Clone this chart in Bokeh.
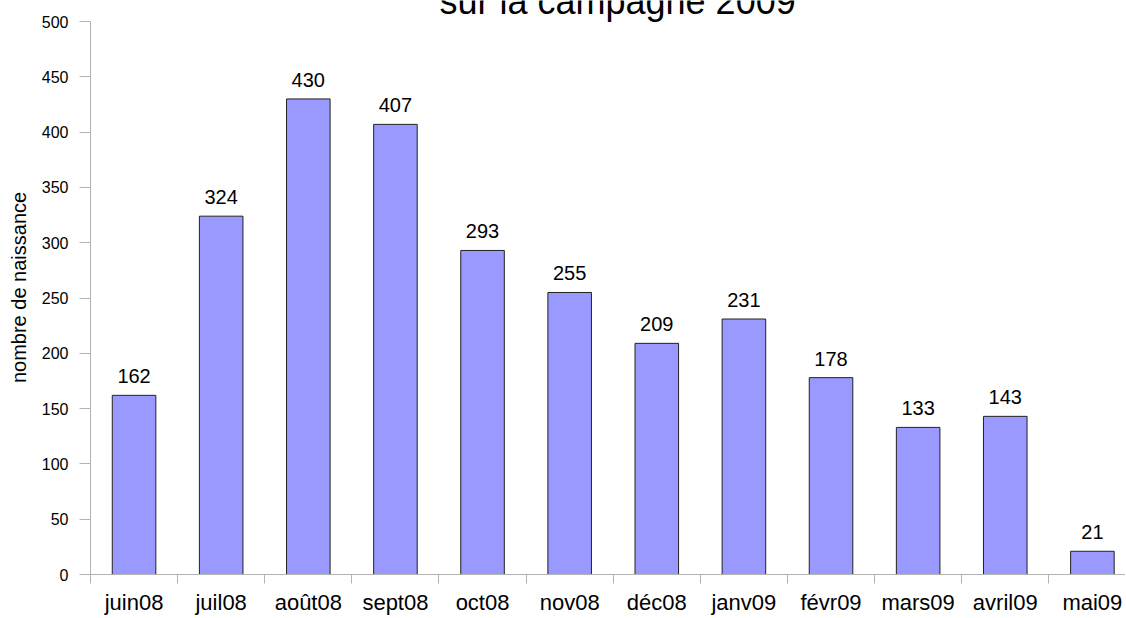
from bokeh.plotting import figure
from bokeh.models import Range1d, FixedTicker, ColumnDataSource
from bokeh.core.properties import value
from bokeh.embed import file_html
from bokeh.resources import INLINE

months = ["juin08", "juil08", "août08", "sept08", "oct08", "nov08",
          "déc08", "janv09", "févr09", "mars09", "avril09", "mai09"]
births = [162, 324, 430, 407, 293, 255, 209, 231, 178, 133, 143, 21]
y_ticks = [0, 50, 100, 150, 200, 250, 300, 350, 400, 450, 500]
title_text = "sur la campagne 2009"
y_label = "nombre de naissance"

FONT = "Liberation Sans"
idx = list(range(len(months)))
src = ColumnDataSource(dict(x=idx, top=births, lab=[str(v) for v in births]))

p = figure(width=1125, height=617, output_backend="svg", toolbar_location=None,
           x_range=Range1d(-0.5, 11.38), y_range=Range1d(0, 519),
           min_border_left=90, min_border_top=0, min_border_bottom=40, min_border_right=0)
p.outline_line_color = None
p.xgrid.grid_line_color = None
p.ygrid.grid_line_color = None
p.background_fill_color = "white"

p.vbar(x="x", top="top", width=0.5, source=src, fill_color="#9999ff",
       line_color="#222222", line_width=1)
p.text(x="x", y="top", text="lab", source=src, text_align="center",
       text_baseline="alphabetic", y_offset=-19, text_font_size="20px",
       text_font=value(FONT), text_color="black")

# title (top clipped by the frame edge, as in the reference)
p.text(x=[5.55], y=[518.3], text=[title_text], text_align="center",
       text_baseline="alphabetic", text_font_size="36px",
       text_font=value(FONT), text_color="black")

# x axis
xa = p.xaxis[0]
xa.ticker = FixedTicker(ticks=idx, minor_ticks=[i + 0.5 for i in range(-1, len(months))])
xa.major_label_overrides = {i: m for i, m in enumerate(months)}
xa.major_tick_line_color = None
xa.minor_tick_line_color = "#b3b3b3"
xa.minor_tick_in = 0
xa.minor_tick_out = 9
xa.axis_line_color = "#b3b3b3"
xa.major_label_text_font = FONT
xa.major_label_text_font_size = "22px"
xa.major_label_text_color = "black"
xa.major_label_standoff = 6

# y axis
ya = p.yaxis[0]
ya.ticker = FixedTicker(ticks=y_ticks, minor_ticks=[])
ya.bounds = (0, 500)
ya.axis_line_color = "#b3b3b3"
ya.major_tick_line_color = "#b3b3b3"
ya.major_tick_in = 0
ya.major_tick_out = 11
ya.minor_tick_line_color = None
ya.major_label_text_font = FONT
ya.major_label_text_font_size = "16px"
ya.major_label_text_color = "black"
ya.major_label_standoff = 11
ya.axis_label = y_label
ya.axis_label_text_font = FONT
ya.axis_label_text_font_size = "20px"
ya.axis_label_text_font_style = "normal"
ya.axis_label_text_color = "black"
ya.axis_label_standoff = 9

open("out.html", "w").write(file_html(p, INLINE))
